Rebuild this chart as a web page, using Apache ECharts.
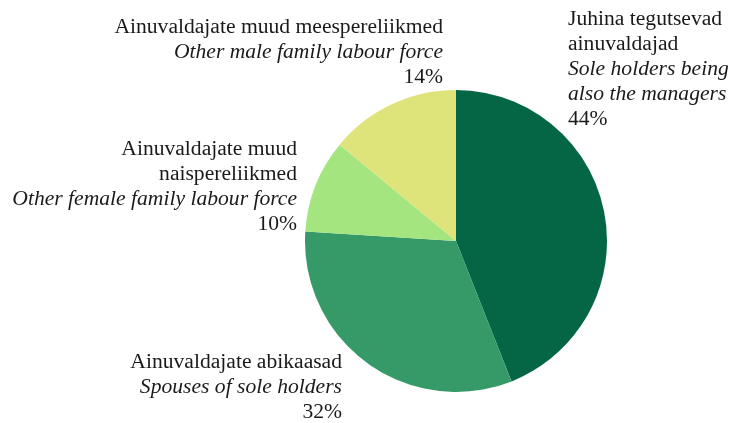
<!DOCTYPE html>
<html>
<head>
<meta charset="utf-8">
<script src="https://cdn.jsdelivr.net/npm/echarts@6/dist/echarts.min.js"></script>
<style>
  html, body { margin: 0; padding: 0; background: #ffffff; }
  #chart { width: 730px; height: 423px; }
</style>
</head>
<body>
<div id="chart"></div>
<script>
// Family labour force of sole holders, share of total
const namesEt = [
  'Juhina tegutsevad\nainuvaldajad',
  'Ainuvaldajate abikaasad',
  'Ainuvaldajate muud\nnaispereliikmed',
  'Ainuvaldajate muud meespereliikmed'
];
const namesEn = [
  'Sole holders being\nalso the managers',
  'Spouses of sole holders',
  'Other female family labour force',
  'Other male family labour force'
];
const shares = [44, 32, 10, 14];
const colors = ['#046645', '#359A67', '#A5E57F', '#DEE47A'];

// Label anchor per slice: [x, y(top), align]
const labelSpots = [
  [568, 7, 'left'],
  [342, 350, 'right'],
  [297, 137, 'right'],
  [443, 15, 'right']
];

function richLines(text, style) {
  return text.split('\n').map(function (s) { return '{' + style + '|' + s + '}'; }).join('\n');
}

const chart = echarts.init(document.getElementById('chart'), null, { renderer: 'canvas' });

const textBase = { fontFamily: 'Liberation Serif', fontSize: 21.6, lineHeight: 25, color: '#1a1a1a' };

chart.setOption({
  animation: false,
  backgroundColor: '#ffffff',
  series: [{
    type: 'pie',
    center: [456, 241],
    radius: 151,
    startAngle: 90,
    clockwise: true,
    avoidLabelOverlap: false,
    labelLine: { show: false },
    itemStyle: { borderWidth: 0 },
    emphasis: { disabled: true },
    label: {
      show: true,
      position: 'outside',
      formatter: function (p) {
        const i = p.dataIndex;
        return richLines(namesEt[i], 'n') + '\n' + richLines(namesEn[i], 'i') + '\n{n|' + shares[i] + '%}';
      },
      rich: {
        n: Object.assign({}, textBase),
        i: Object.assign({ fontStyle: 'italic' }, textBase)
      }
    },
    labelLayout: function (params) {
      const spot = labelSpots[params.dataIndex];
      return { x: spot[0], y: spot[1], align: spot[2], verticalAlign: 'top', hideOverlap: false };
    },
    data: shares.map(function (v, i) {
      return {
        value: v,
        name: namesEt[i],
        itemStyle: { color: colors[i] },
        label: { align: labelSpots[i][2] }
      };
    })
  }]
});
</script>
</body>
</html>
